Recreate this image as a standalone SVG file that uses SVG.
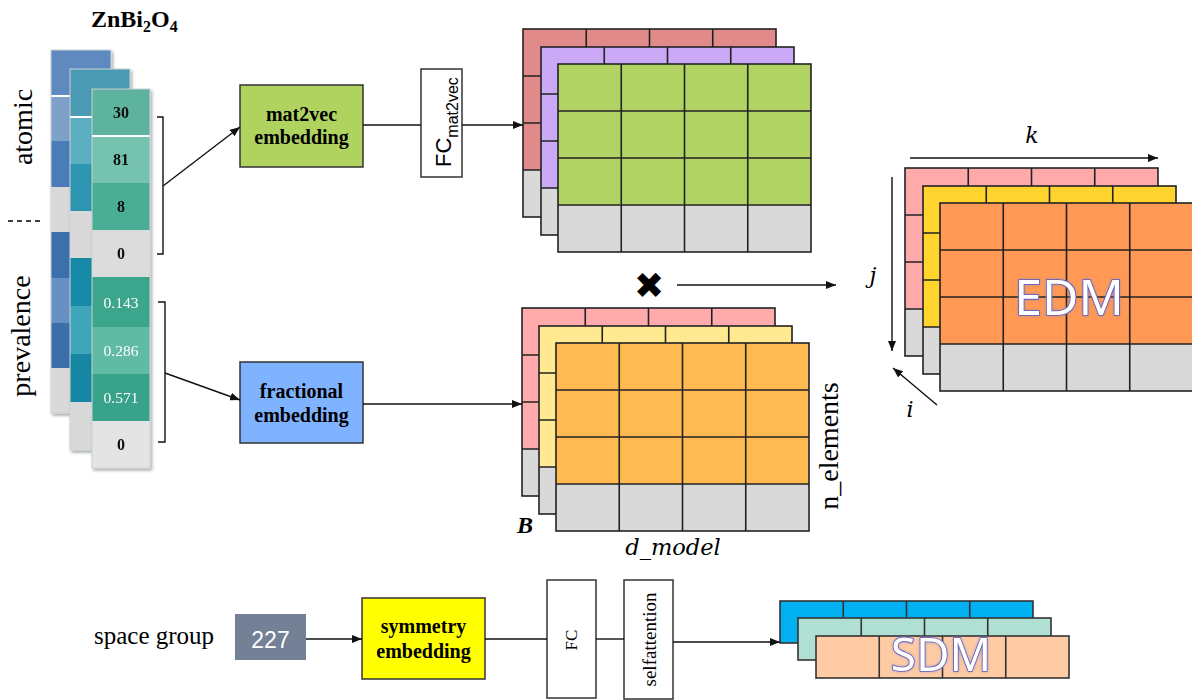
<svg xmlns="http://www.w3.org/2000/svg" xmlns:xlink="http://www.w3.org/1999/xlink" width="1192" height="700" viewBox="0 0 1192 700">
<style>
.serif{font-family:"Liberation Serif","Times New Roman",serif;}
.sans{font-family:"Liberation Sans",Arial,sans-serif;}
.bold{font-weight:bold;}
.math{font-family:"DejaVu Serif",serif;font-style:italic;}
.conn{stroke:#111;stroke-width:1.4;fill:none;}
.arr{marker-end:url(#ah);}
.box{stroke:#333;stroke-width:1.5;}
.col{stroke:#c9d3d3;stroke-width:1;}
.big{font-family:"Noto Sans","Open Sans",sans-serif;fill:#fff;stroke:#5a5ab8;stroke-width:1.6;paint-order:stroke;}
</style>
<defs>
<marker id="ah" markerWidth="10" markerHeight="8" refX="10" refY="4" orient="auto" markerUnits="userSpaceOnUse">
<path d="M0,0 L10,4 L0,8 z" fill="#111"/>
</marker>
<g id="g4" fill="none" stroke="#222" stroke-width="1.6">
<rect width="253" height="188"/>
<path d="M63.25,0V188M126.5,0V188M189.75,0V188M0,47H253M0,94H253M0,141H253"/>
</g>
<g id="g1" fill="none" stroke="#333" stroke-width="1.6">
<rect width="253" height="42"/>
<path d="M63.25,0V42M126.5,0V42M189.75,0V42"/>
</g>
<filter id="sh" x="-20%" y="-20%" width="140%" height="140%">
<feDropShadow dx="1.5" dy="2" stdDeviation="1.5" flood-color="#000" flood-opacity="0.35"/>
</filter>
<filter id="glow" x="-20%" y="-20%" width="140%" height="140%">
<feDropShadow dx="0" dy="0" stdDeviation="1.5" flood-color="#8080d0" flood-opacity="0.7"/>
</filter>
</defs>

<!-- title -->
<text class="serif bold" x="91" y="27" font-size="24">ZnBi<tspan font-size="16" dy="5">2</tspan><tspan dy="-5">O</tspan><tspan font-size="16" dy="5">4</tspan></text>
<text class="serif" font-size="28" transform="translate(32,127) rotate(-90)" text-anchor="middle">atomic</text>
<text class="serif" font-size="28" transform="translate(30,336) rotate(-90)" text-anchor="middle">prevalence</text>
<line x1="8" y1="221" x2="44" y2="221" stroke="#000" stroke-width="1.3" stroke-dasharray="5,4"/>

<!-- input column stack -->
<g id="col-back" filter="url(#sh)">
<rect x="51" y="50" width="60" height="46" fill="#5f8ac0"/>
<rect x="51" y="96" width="60" height="45" fill="#7ea1c9"/>
<rect x="51" y="141" width="60" height="46" fill="#4b7cb8"/>
<rect x="51" y="187" width="60" height="45" fill="#d9d9d9"/>
<rect x="51" y="232" width="60" height="46" fill="#3a70ad"/>
<rect x="51" y="278" width="60" height="45" fill="#6990c2"/>
<rect x="51" y="323" width="60" height="45" fill="#3a6eab"/>
<rect x="51" y="368" width="60" height="45" fill="#d9d9d9"/>
<line x1="51" y1="96" x2="111" y2="96" stroke="#fff" stroke-width="2"/>
<rect x="51" y="50" width="60" height="363" fill="none" class="col"/>
</g>
<g id="col-mid" filter="url(#sh)">
<rect x="70" y="69" width="60" height="48" fill="#4a9ab2"/>
<rect x="70" y="117" width="60" height="47" fill="#5cb0c2"/>
<rect x="70" y="164" width="60" height="47" fill="#2f96b0"/>
<rect x="70" y="211" width="60" height="47" fill="#d9d9d9"/>
<rect x="70" y="258" width="60" height="48" fill="#168aa6"/>
<rect x="70" y="306" width="60" height="48" fill="#3fa6b9"/>
<rect x="70" y="354" width="60" height="48" fill="#1586a2"/>
<rect x="70" y="402" width="60" height="48" fill="#d9d9d9"/>
<line x1="70" y1="117" x2="130" y2="117" stroke="#fff" stroke-width="2"/>
<rect x="70" y="69" width="60" height="381" fill="none" class="col"/>
</g>
<g id="col-front" filter="url(#sh)">
<rect x="92" y="89" width="58" height="47" fill="#5db39d"/>
<rect x="92" y="136" width="58" height="47" fill="#74c2ae"/>
<rect x="92" y="183" width="58" height="47" fill="#4aae94"/>
<rect x="92" y="230" width="58" height="47" fill="#dcdcdc"/>
<rect x="92" y="277" width="58" height="50" fill="#3ba68c"/>
<rect x="92" y="327" width="58" height="47" fill="#60baa4"/>
<rect x="92" y="374" width="58" height="47" fill="#38a38a"/>
<rect x="92" y="421" width="58" height="47" fill="#e4e4e4"/>
<line x1="92" y1="136" x2="150" y2="136" stroke="#fff" stroke-width="2"/>
<rect x="92" y="89" width="58" height="379" fill="none" class="col"/>
<g class="serif bold" font-size="16" text-anchor="middle" fill="#111">
<text x="121" y="118">30</text>
<text x="121" y="165">81</text>
<text x="121" y="212">8</text>
<text x="121" y="259">0</text>
<text x="121" y="450">0</text>
</g>
<g class="serif" font-size="15.5" text-anchor="middle" fill="#fff">
<text x="121" y="308">0.143</text>
<text x="121" y="356">0.286</text>
<text x="121" y="403">0.571</text>
</g>
</g>

<!-- embedding boxes -->
<g id="mat2vec">
<rect x="240" y="85" width="123" height="82" fill="#b0d360" class="box"/>
<text class="serif bold" font-size="20" x="301.5" y="121" text-anchor="middle">mat2vec</text>
<text class="serif bold" font-size="20" x="301.5" y="144" text-anchor="middle">embedding</text>
</g>
<g id="fc-mat2vec">
<rect x="421" y="69" width="41" height="108" fill="#fff" class="box"/>
<text class="sans" font-size="22" transform="translate(451,167) rotate(-90)">FC<tspan font-size="16" dy="7">mat2vec</tspan></text>
</g>
<g id="fractional">
<rect x="240" y="362" width="123" height="81" fill="#80b3ff" class="box"/>
<text class="serif bold" font-size="20" x="301.5" y="398" text-anchor="middle">fractional</text>
<text class="serif bold" font-size="20" x="301.5" y="422" text-anchor="middle">embedding</text>
</g>

<!-- top stack -->
<g id="top-stack">
<rect x="523" y="29" width="253" height="141" fill="#e08a8a"/><rect x="523" y="170" width="253" height="47" fill="#d9d9d9"/><use xlink:href="#g4" x="523" y="29"/>
<rect x="541" y="47" width="253" height="141" fill="#caa9f7"/><rect x="541" y="188" width="253" height="47" fill="#d9d9d9"/><use xlink:href="#g4" x="541" y="47"/>
<rect x="558" y="64" width="253" height="141" fill="#b1d364"/><rect x="558" y="205" width="253" height="47" fill="#d9d9d9"/><use xlink:href="#g4" x="558" y="64"/>
</g>

<!-- bottom stack -->
<g id="bottom-stack">
<rect x="522" y="308" width="253" height="141" fill="#ffaaad"/><rect x="522" y="449" width="253" height="47" fill="#d9d9d9"/><use xlink:href="#g4" x="522" y="308"/>
<rect x="539" y="326" width="253" height="141" fill="#ffe991"/><rect x="539" y="467" width="253" height="47" fill="#d9d9d9"/><use xlink:href="#g4" x="539" y="326"/>
<rect x="556" y="343" width="253" height="141" fill="#ffba52"/><rect x="556" y="484" width="253" height="47" fill="#d9d9d9"/><use xlink:href="#g4" x="556" y="343"/>
<text class="serif bold" font-style="italic" font-size="24" x="517" y="533">B</text>
<text class="math" font-size="22.5" x="673" y="555" text-anchor="middle">d_model</text>
<text class="serif" font-size="28" transform="translate(838,446) rotate(-90)" text-anchor="middle">n_elements</text>
</g>

<!-- multiply -->
<text id="times" x="649" y="298" font-family="DejaVu Sans" font-size="36" text-anchor="middle" fill="#000">✖</text>

<!-- EDM stack -->
<g id="edm-stack">
<rect x="905" y="168" width="253" height="141" fill="#ffaaaa"/><rect x="905" y="309" width="253" height="47" fill="#d9d9d9"/><use xlink:href="#g4" x="905" y="168"/>
<rect x="923" y="186" width="253" height="141" fill="#ffd42e"/><rect x="923" y="327" width="253" height="47" fill="#d9d9d9"/><use xlink:href="#g4" x="923" y="186"/>
<rect x="940" y="203" width="253" height="141" fill="#ff9955"/><rect x="940" y="344" width="253" height="47" fill="#d9d9d9"/><use xlink:href="#g4" x="940" y="203"/>
<text class="big" font-size="50" x="1069" y="315" text-anchor="middle" filter="url(#glow)">EDM</text>
<text class="math" font-size="22" x="1032" y="143" text-anchor="middle">k</text>
<text class="math" font-size="22" x="873" y="283" text-anchor="middle">j</text>
<text class="math" font-size="22" x="910" y="417" text-anchor="middle">i</text>
</g>

<!-- bottom row -->
<text class="serif" font-size="25" x="94" y="644">space group</text>
<g id="sg227">
<rect x="235" y="614" width="71" height="46" fill="#738096"/>
<text class="sans" font-size="23" x="270.5" y="648" text-anchor="middle" fill="#fff">227</text>
</g>
<g id="symmetry">
<rect x="362" y="598" width="123" height="81" fill="#ffff00" class="box"/>
<text class="serif bold" font-size="20" x="423.5" y="633" text-anchor="middle">symmetry</text>
<text class="serif bold" font-size="20" x="423.5" y="658" text-anchor="middle">embedding</text>
</g>
<g id="fc">
<rect x="547" y="580" width="49" height="118" fill="#fff" class="box"/>
<text class="serif" font-size="17" transform="translate(577,640) rotate(-90)" text-anchor="middle">FC</text>
</g>
<g id="selfattention">
<rect x="624" y="580" width="49" height="119" fill="#fff" class="box"/>
<text class="serif" font-size="19" transform="translate(656,639.5) rotate(-90)" text-anchor="middle">selfattention</text>
</g>
<g id="sdm-stack">
<rect x="780" y="601" width="253" height="42" fill="#00b0f0"/><use xlink:href="#g1" x="780" y="601"/>
<rect x="798" y="618" width="253" height="42" fill="#b0e0d4"/><use xlink:href="#g1" x="798" y="618"/>
<rect x="816" y="636" width="253" height="42" fill="#ffcba4"/><use xlink:href="#g1" x="816" y="636"/>
<text class="big" font-size="46" x="941" y="671" text-anchor="middle" filter="url(#glow)">SDM</text>
</g>

<!-- connectors -->
<g id="connectors">
<path class="conn" d="M157,117H163V254H157"/>
<path class="conn" d="M158,302H165V442H158"/>
<line class="conn arr" x1="163" y1="186" x2="240" y2="127"/>
<line class="conn arr" x1="165" y1="373" x2="240" y2="400"/>
<line class="conn" x1="363" y1="125" x2="421" y2="125"/>
<line class="conn arr" x1="462" y1="125" x2="523" y2="125"/>
<line class="conn arr" x1="363" y1="404" x2="522" y2="404"/>
<line class="conn arr" x1="677" y1="285" x2="836" y2="285"/>
<line class="conn arr" x1="910" y1="158" x2="1158" y2="158"/>
<line class="conn arr" x1="892" y1="177" x2="892" y2="351"/>
<line class="conn arr" x1="937" y1="405" x2="893" y2="368"/>
<line class="conn arr" x1="306" y1="639" x2="362" y2="639"/>
<line class="conn" x1="485" y1="639" x2="547" y2="639"/>
<line class="conn" x1="596" y1="639" x2="624" y2="639"/>
<line class="conn arr" x1="673" y1="642" x2="780" y2="642"/>
</g>
</svg>
